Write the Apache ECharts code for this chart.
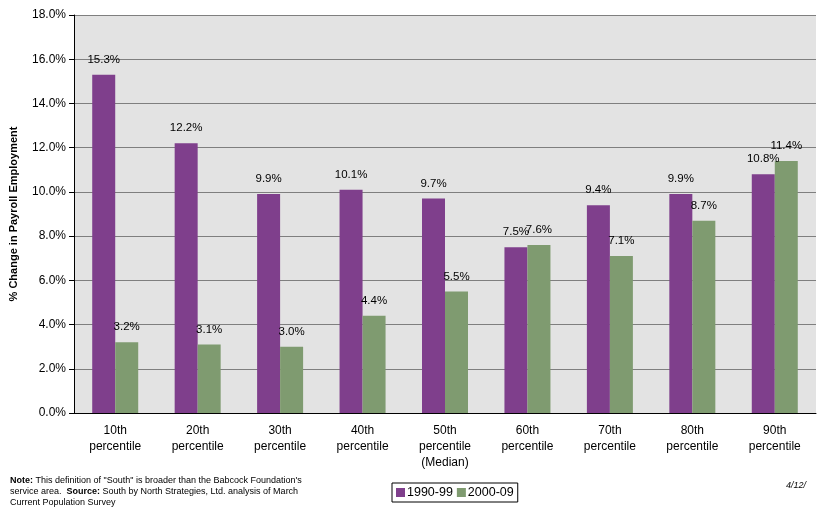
<!DOCTYPE html>
<html><head><meta charset="utf-8">
<script src="https://cdn.jsdelivr.net/npm/echarts@6/dist/echarts.min.js"></script>
<style>body{margin:0}#c{width:818px;height:510px}</style></head>
<body><div id="c"></div>
<script>
var categories = ['10th\npercentile','20th\npercentile','30th\npercentile','40th\npercentile','50th\npercentile\n(Median)','60th\npercentile','70th\npercentile','80th\npercentile','90th\npercentile'];
var s1990 = [15.3, 12.2, 9.9, 10.1, 9.7, 7.5, 9.4, 9.9, 10.8];
var s2000 = [3.2, 3.1, 3.0, 4.4, 5.5, 7.6, 7.1, 8.7, 11.4];

var chart = echarts.init(document.getElementById('c'));
var lbl = {show: true, position: 'top', formatter: function(p){ return p.value.toFixed(1) + '%'; },
    color: '#000', fontFamily: 'Liberation Sans', fontSize: 11.5, distance: 9};
chart.setOption({
    animation: false,
    textStyle: {fontFamily: 'Liberation Sans'},
    grid: {left: 72, right: 2, top: 15, bottom: 97, backgroundColor: '#e3e3e3', show: true, borderWidth: 0},
    xAxis: {
        type: 'category', data: categories,
        axisLine: {lineStyle: {color: '#000'}},
        axisTick: {lineStyle: {color: '#000'}, length: 5},
        axisLabel: {color: '#000', fontSize: 12, lineHeight: 16, margin: 10}
    },
    yAxis: {
        type: 'value', min: 0, max: 18, interval: 2,
        name: '% Change in Payroll Employment', nameLocation: 'middle', nameGap: 55,
        nameTextStyle: {fontWeight: 'bold', fontSize: 11, color: '#000'},
        axisLine: {show: true, lineStyle: {color: '#000'}},
        axisTick: {show: true, lineStyle: {color: '#000'}},
        axisLabel: {color: '#000', fontSize: 12, formatter: function(v){ return v.toFixed(1) + '%'; }},
        splitLine: {lineStyle: {color: '#666', width: 0.8}}
    },
    legend: {
        data: ['1990-99', '2000-09'], left: 392, top: 483,
        itemWidth: 9, itemHeight: 9, itemGap: 4, padding: [3, 4],
        borderColor: '#000', borderWidth: 1, icon: 'rect',
        textStyle: {fontSize: 12.5, color: '#000', padding: [0, 0, 0, -3]}
    },
    series: [
        {name: '1990-99', type: 'bar', data: s1990, barWidth: 23, barGap: '0%',
         itemStyle: {color: '#7f3f8c'}, label: lbl},
        {name: '2000-09', type: 'bar', data: s2000, barWidth: 23,
         itemStyle: {color: '#7f9b70'}, label: lbl}
    ],
    graphic: [
        {type: 'text', left: 10, top: 475, style: {rich: {b: {fontWeight: 'bold', fontSize: 9, fontFamily: 'Liberation Sans'}, n: {fontSize: 9, fontFamily: 'Liberation Sans'}},
         text: '{b|Note:}{n| This definition of "South" is broader than the Babcock Foundation\'s}\n{n|service area.  }{b|Source:}{n| South by North Strategies, Ltd. analysis of March}\n{n|Current Population Survey}', lineHeight: 11, fill: '#000'}},
        {type: 'text', right: 12, top: 481, style: {text: '4/12/', fontSize: 9, fontStyle: 'italic', fill: '#000', fontFamily: 'Liberation Sans'}}
    ]
});
</script></body></html>
